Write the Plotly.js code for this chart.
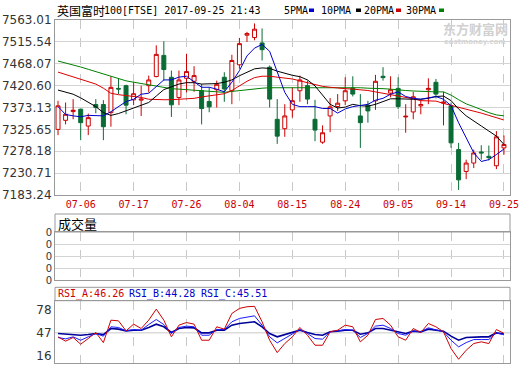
<!DOCTYPE html>
<html><head><meta charset="utf-8">
<script src="https://cdn.plot.ly/plotly-3.0.1.min.js"></script>
<style>html,body{margin:0;padding:0;background:#fff;}#chart{width:520px;height:365px;}</style>
</head><body><div id="chart"></div>
<script>
const dates = ['07-03','07-04','07-05','07-06','07-07','07-10','07-11','07-12','07-13','07-14',
'07-17','07-18','07-19','07-20','07-21','07-24','07-25','07-26','07-27','07-28','07-31',
'08-01','08-02','08-03','08-04','08-07','08-08','08-09','08-10','08-11','08-14','08-15',
'08-16','08-17','08-18','08-21','08-22','08-23','08-24','08-25','08-29','08-30','08-31',
'09-01','09-04','09-05','09-06','09-07','09-08','09-11','09-12','09-13','09-14','09-15',
'09-18','09-19','09-20','09-21','09-22','09-25'];
const openP = [7325.6,7345.3,7364.3,7369.4,7332.9,7379.6,7379.6,7362.1,7414.6,7420.5,
7389.8,7389.1,7420.5,7440.2,7486.2,7438.7,7394.9,7436.5,7430.0,7409.5,
7386.2,7411.7,7438.7,7409.5,7465.8,7530.0,7524.9,7513.2,7460.6,7347.5,
7327.1,7367.9,7409.5,7420.5,7347.5,7297.9,7354.8,7375.2,7387.6,7415.4,
7354.8,7378.2,7387.6,7440.9,7404.4,7414.6,7352.6,7363.5,7376.7,7411.7,
7427.8,7382.5,7376.7,7281.8,7234.3,7252.6,7276.7,7267.2,7246.7,7285.4];
const highP = [7387.6,7384.0,7391.3,7370.9,7359.9,7391.3,7389.1,7440.9,7436.5,7422.7,
7427.8,7420.5,7442.4,7508.1,7516.9,7453.3,7453.3,7489.8,7462.8,7424.1,
7416.8,7431.4,7449.7,7487.6,7524.1,7537.3,7555.5,7544.6,7464.3,7391.3,
7380.3,7416.8,7442.4,7431.4,7389.8,7334.3,7393.5,7402.2,7438.7,7440.9,
7402.2,7387.6,7443.9,7460.6,7440.9,7438.7,7380.3,7407.3,7391.3,7436.5,
7435.1,7407.3,7384.0,7296.4,7259.9,7281.8,7291.3,7290.6,7321.9,7312.5];
const lowP = [7313.2,7336.5,7347.5,7302.2,7313.2,7360.6,7302.2,7331.4,7402.2,7358.4,
7378.2,7354.7,7405.9,7438.7,7431.4,7352.6,7378.2,7405.9,7407.3,7336.5,
7362.8,7373.0,7385.5,7380.3,7457.0,7515.4,7519.0,7475.2,7373.0,7294.2,
7309.5,7351.1,7385.5,7380.3,7300.0,7294.2,7319.7,7365.7,7378.2,7397.1,
7285.4,7340.2,7368.0,7431.4,7395.0,7369.4,7318.3,7347.5,7358.4,7380.3,
7392.7,7334.3,7285.4,7194.2,7217.6,7241.6,7259.9,7258.4,7239.4,7270.8];
const closeP = [7376.7,7358.4,7367.2,7340.2,7351.1,7373.0,7331.4,7416.8,7413.2,7378.2,
7403.0,7391.3,7432.9,7488.4,7455.5,7378.9,7432.9,7451.1,7442.4,7370.9,
7374.5,7423.4,7413.2,7475.2,7511.7,7533.6,7543.1,7498.6,7391.3,7311.0,
7354.8,7388.0,7432.9,7391.3,7324.1,7318.3,7374.5,7382.5,7409.5,7402.2,
7340.2,7365.7,7430.0,7438.0,7411.7,7375.2,7354.1,7396.4,7379.6,7414.6,
7402.2,7384.7,7296.4,7216.1,7252.6,7274.5,7274.5,7264.3,7309.5,7292.7];
const ma5 = [7375,7358,7355,7353,7356,7355,7355,7364,7375,7386,
7391,7402,7404,7419,7433,7433,7439,7441,7428,7417,
7417,7413,7407,7428,7453,7485,7502,7510,7495,7450,
7406,7380,7375,7375,7375,7371,7371,7361,7370,7375,
7378,7380,7389,7393,7402,7407,7397,7393,7391,7394,
7397,7391,7377,7340,7307,7275,7256,7260,7271,7283];
const ma10 = [7411,7406,7402,7394,7385,7375,7362,7356,7360,7366,
7373,7379,7384,7398,7412,7418,7424,7427,7427,7424,
7424,7425,7428,7433,7442,7450,7457,7459,7458,7452,
7447,7443,7440,7433,7420,7400,7380,7372,7374,7380,
7377,7376,7380,7386,7392,7392,7391,7391,7391,7393,
7397,7398,7388,7370,7355,7343,7333,7322,7311,7293];
const ma20 = [7450,7445,7440,7435,7430,7424,7415,7404,7401,7399,
7398,7395,7391,7390,7390,7390,7391,7391,7393,7396,
7398,7400,7403,7410,7420,7430,7438,7441,7441,7439,
7437,7435,7431,7427,7423,7419,7417,7415,7414,7413,
7412,7410,7407,7404,7402,7399,7395,7392,7388,7387,
7387,7382,7378,7373,7369,7366,7361,7356,7351,7346];
const ma30 = [7474,7470,7465,7461,7456,7451,7446,7441,7436,7431,
7428,7425,7423,7420,7417,7414,7413,7412,7411,7410,
7409,7407,7406,7408,7410,7412,7414,7415,7416,7416,
7416,7416,7416,7416,7416,7416,7416,7417,7417,7416,
7416,7415,7415,7414,7413,7411,7410,7409,7408,7407,
7407,7407,7400,7390,7381,7375,7368,7362,7357,7355];
const volume = [0,0,0,0,0,0,0,0,0,0,0,0,0,0,0,0,0,0,0,0,0,0,0,0,0,0,0,0,0,0,
0,0,0,0,0,0,0,0,0,0,0,0,0,0,0,0,0,0,0,0,0,0,0,0,0,0,0,0,0,0];
const rsiA = [41.6,35.7,40.7,31.6,39.3,47.5,33.8,64.2,63.3,49.7,
58.8,52.9,64.2,79.2,64.2,41.6,57.4,61.0,58.8,37.0,
37.0,55.2,52.0,73.3,80.1,82.4,83.0,62.0,37.0,20.2,
32.5,41.6,54.3,43.8,30.2,30.2,48.4,50.6,57.4,55.2,
34.8,43.8,65.1,66.5,57.4,41.6,37.0,52.9,47.5,59.7,
55.2,48.4,25.7,11.2,23.4,32.5,34.8,32.5,51.5,46.26];
const rsiB = [40.7,38.8,41.6,37.0,41.6,46.1,42.5,55.2,54.3,49.7,
51.5,50.6,58.3,65.1,58.3,46.1,54.3,56.1,55.2,43.8,
43.8,51.5,51.5,62.0,66.5,68.8,70.1,57.4,41.6,33.4,
39.3,45.2,51.5,46.1,39.3,38.4,48.4,49.7,51.5,50.6,
40.7,46.1,56.1,57.4,52.9,46.1,43.8,49.7,48.4,53.8,
51.5,48.4,37.0,28.0,33.8,37.9,37.9,37.9,47.0,44.28];
const rsiC = [46.1,45.2,45.2,43.8,44.7,46.1,44.7,52.9,52.0,49.7,
50.6,50.6,54.3,58.8,55.2,47.5,52.9,54.3,53.8,47.0,
47.0,50.6,50.6,57.4,59.7,61.1,62.0,55.2,46.1,41.6,
44.7,47.5,50.6,47.5,44.7,43.8,48.4,49.3,50.6,50.6,
45.2,47.0,52.9,52.9,50.6,47.5,46.1,49.3,48.4,52.0,
50.6,49.3,42.5,37.0,40.7,41.6,41.6,41.6,47.0,45.51];
const xTickLabels = ['07-06','07-17','07-26','08-04','08-15','08-24','09-05','09-14','09-25'];
const yTickVals = [7183.24,7230.71,7278.18,7325.65,7373.13,7420.60,7468.07,7515.54,7563.01];
const yTickText = ['7183.24','7230.71','7278.18','7325.65','7373.13','7420.60','7468.07','7515.54','7563.01'];
const volTickVals = [0,1,2,3,4];
const volTickText = ['0','0','0','0','0'];
const rsiTickVals = [16,47,78];

const W = 520, H = 365;
const px = v => v / W, py = v => 1 - v / H;
const RED = '#cc0000', GREEN = '#0b6b35', BLUE = '#0000cc', NAVY = '#00009a';
const MONO = 'DejaVu Sans Mono, Noto Sans CJK SC, monospace';
const xDom = [px(55), px(510)];

const traces = [
  {type:'candlestick', x:dates, open:openP, high:highP, low:lowP, close:closeP,
   xaxis:'x', yaxis:'y', whiskerwidth:0,
   increasing:{line:{color:RED,width:1}, fillcolor:'#ffffff'},
   decreasing:{line:{color:GREEN,width:1}, fillcolor:GREEN}, hoverinfo:'skip'},
  {type:'scatter', mode:'lines', x:dates, y:ma30, line:{color:'#008000',width:1}, xaxis:'x', yaxis:'y'},
  {type:'scatter', mode:'lines', x:dates, y:ma20, line:{color:'#dd0000',width:1}, xaxis:'x', yaxis:'y'},
  {type:'scatter', mode:'lines', x:dates, y:ma10, line:{color:'#000000',width:1}, xaxis:'x', yaxis:'y'},
  {type:'scatter', mode:'lines', x:dates, y:ma5, line:{color:BLUE,width:1}, xaxis:'x', yaxis:'y'},
  {type:'bar', x:dates, y:volume, marker:{color:RED, line:{width:0}}, xaxis:'x2', yaxis:'y2'},
  {type:'scatter', mode:'lines', x:dates, y:rsiC, line:{color:NAVY,width:1.6}, xaxis:'x3', yaxis:'y3'},
  {type:'scatter', mode:'lines', x:dates, y:rsiB, line:{color:'#1a1aff',width:1}, xaxis:'x3', yaxis:'y3'},
  {type:'scatter', mode:'lines', x:dates, y:rsiA, line:{color:RED,width:1}, xaxis:'x3', yaxis:'y3'}
];

const xBase = {type:'category', domain:xDom, range:[-0.4,59.8], tickvals:xTickLabels, ticktext:xTickLabels,
  showgrid:true, gridcolor:'#c8c8c8', griddash:'dash', gridwidth:1, showline:true, linecolor:'#999',
  linewidth:1, mirror:true, ticks:'', zeroline:false, fixedrange:true, categoryorder:'array', categoryarray:dates};
const yFont = {family:'DejaVu Sans, sans-serif', size:12, color:'#333'};
const volFont = {family:'DejaVu Sans, sans-serif', size:10, color:'#333'};

const layout = {
  width:W, height:H, margin:{l:0,r:0,t:0,b:0}, paper_bgcolor:'#fff', plot_bgcolor:'#fff',
  showlegend:false, boxgap:0.25, bargap:0.3,
  xaxis: Object.assign({}, xBase, {anchor:'y', tickfont:{family:MONO,size:10,color:RED}, rangeslider:{visible:false}}),
  yaxis: {domain:[py(195),py(20)], range:[7183.24,7563.01], tickvals:yTickVals, ticktext:yTickText,
    tickfont:yFont, showgrid:true, gridcolor:'#d4d4d4', showline:true, linecolor:'#999', mirror:true,
    zeroline:false, ticks:'', fixedrange:true, anchor:'x'},
  xaxis2: Object.assign({}, xBase, {anchor:'y2', showticklabels:false}),
  yaxis2: {domain:[py(280),py(232)], range:[0,4], tickvals:volTickVals, ticktext:volTickText,
    tickfont:volFont, showgrid:true, gridcolor:'#d4d4d4', showline:true, linecolor:'#999', mirror:true,
    zeroline:false, ticks:'', fixedrange:true, anchor:'x2'},
  xaxis3: Object.assign({}, xBase, {anchor:'y3', showticklabels:false}),
  yaxis3: {domain:[py(363.3),py(300.7)], range:[5.7,90.6], tickvals:rsiTickVals,
    tickfont:yFont, showgrid:false, showline:true, linecolor:'#999', mirror:true,
    zeroline:false, ticks:'', fixedrange:true, anchor:'x3'},
  shapes: [
    {type:'line', xref:'x3 domain', yref:'y3', x0:0, x1:1, y0:47, y1:47, line:{color:'#c8c8c8',width:1}, layer:'below'},
    {type:'rect', xref:'paper', yref:'paper', x0:px(55), x1:px(510), y0:py(232), y1:py(214), line:{color:'#999',width:1}},
    {type:'rect', xref:'paper', yref:'paper', x0:px(55), x1:px(510), y0:py(300.7), y1:py(287.3), line:{color:'#999',width:1}},
    {type:'rect', xref:'paper', yref:'paper', x0:px(309), x1:px(314), y0:py(12), y1:py(8.5), fillcolor:BLUE, line:{width:0}},
    {type:'rect', xref:'paper', yref:'paper', x0:px(356), x1:px(361), y0:py(12), y1:py(8.5), fillcolor:'#000', line:{width:0}},
    {type:'rect', xref:'paper', yref:'paper', x0:px(396), x1:px(401), y0:py(12), y1:py(8.5), fillcolor:RED, line:{width:0}},
    {type:'rect', xref:'paper', yref:'paper', x0:px(439), x1:px(444), y0:py(12), y1:py(8.5), fillcolor:'#008000', line:{width:0}}
  ],
  annotations: [
    {xref:'paper', yref:'paper', x:px(55), y:py(10), xanchor:'left', yanchor:'middle', showarrow:false,
     text:'英国富时', font:{family:'Noto Sans CJK SC', size:12, color:'#000'}},
    {xref:'paper', yref:'paper', x:px(102), y:py(10), xanchor:'left', yanchor:'middle', showarrow:false,
     text:'100[FTSE] 2017-09-25 21:43', font:{family:MONO, size:10, color:'#000'}},
    {xref:'paper', yref:'paper', x:px(282), y:py(10), xanchor:'left', yanchor:'middle', showarrow:false,
     text:'5PMA', font:{family:MONO, size:10, color:'#000'}},
    {xref:'paper', yref:'paper', x:px(319), y:py(10), xanchor:'left', yanchor:'middle', showarrow:false,
     text:'10PMA', font:{family:MONO, size:10, color:'#000'}},
    {xref:'paper', yref:'paper', x:px(362), y:py(10), xanchor:'left', yanchor:'middle', showarrow:false,
     text:'20PMA', font:{family:MONO, size:10, color:'#000'}},
    {xref:'paper', yref:'paper', x:px(404), y:py(10), xanchor:'left', yanchor:'middle', showarrow:false,
     text:'30PMA', font:{family:MONO, size:10, color:'#000'}},
    {xref:'paper', yref:'paper', x:px(475), y:py(28), xanchor:'center', yanchor:'middle', showarrow:false,
     text:'<b>东方财富网</b>', font:{family:'Noto Sans CJK SC', size:13, color:'#d0d0d0'}, borderpad:0},
    {xref:'paper', yref:'paper', x:px(475), y:py(42), xanchor:'center', yanchor:'middle', showarrow:false,
     text:'<b>eastmoney.com</b>', font:{family:'DejaVu Sans', size:7, color:'#d6d6d6'}, borderpad:0},
    {xref:'paper', yref:'paper', x:px(56), y:py(223), xanchor:'left', yanchor:'middle', showarrow:false,
     text:'成交量', font:{family:'Noto Sans CJK SC', size:13, color:'#000'}},
    {xref:'paper', yref:'paper', x:px(56), y:py(294), xanchor:'left', yanchor:'middle', showarrow:false,
     text:'RSI_A:46.26', font:{family:MONO, size:10, color:RED}},
    {xref:'paper', yref:'paper', x:px(127), y:py(294), xanchor:'left', yanchor:'middle', showarrow:false,
     text:'RSI_B:44.28', font:{family:MONO, size:10, color:BLUE}},
    {xref:'paper', yref:'paper', x:px(199), y:py(294), xanchor:'left', yanchor:'middle', showarrow:false,
     text:'RSI_C:45.51', font:{family:MONO, size:10, color:BLUE}}
  ]
};
Plotly.newPlot('chart', traces, layout, {staticPlot:true, displayModeBar:false});
</script></body></html>
